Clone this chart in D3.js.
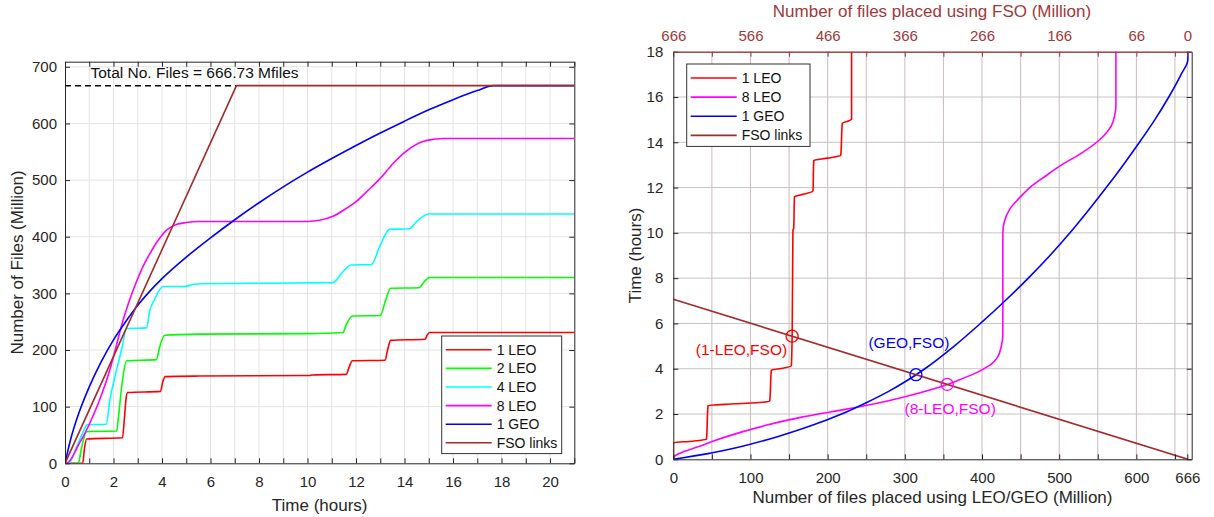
<!DOCTYPE html>
<html><head><meta charset="utf-8">
<script src="https://cdn.jsdelivr.net/npm/d3@7"></script>
<style>body{margin:0;background:#fff} svg{display:block} text{font-family:"Liberation Sans",Arial,Helvetica,sans-serif}</style>
</head><body><svg id="c" width="1214" height="517"></svg>
<script>
// ---------------- DATA ----------------
const TOTAL = 666.73;                 // total number of files (Million)
// [time (hours), cumulative files placed (Million)]
const leo1 = [[0,0],[0.73,0],[0.8,25],[0.89,43],[2.37,45],[2.45,80],[2.52,115],[2.58,125],[3.94,127],[4.02,142],[4.13,153],[5.5,154],[10.1,155],[10.2,156],[11.6,157],[11.7,168],[11.85,181],[13.2,182],[13.3,200],[13.43,217],[14.85,219],[14.93,226],[15.03,231],[21,231]];
const leo2 = [[0,0],[0.55,0],[0.65,20],[0.75,40],[0.89,56],[2.13,57],[2.2,80],[2.35,140],[2.54,181],[3.77,183],[3.9,205],[4.11,226],[5.5,228],[10,229],[11.46,231],[11.6,245],[11.85,260],[13.0,261],[13.2,285],[13.43,309],[14.6,310],[14.8,320],[15.03,328],[21,328]];
const leo4 = [[0,0],[0.14,0],[0.48,29],[0.82,62],[0.9,68],[1.7,69],[1.85,112],[2.06,153],[2.33,200],[2.54,238],[3.36,239],[3.5,270],[3.7,290],[4.05,312],[4.9,312],[5.3,316],[5.6,317],[11.05,319],[11.4,335],[11.8,350],[12.63,351],[13.0,385],[13.38,413],[14.2,414],[14.48,426],[15.0,440],[21,440]];
const leo8 = [[0,0],[0.15,2],[0.34,14],[0.55,32],[0.82,53],[1.2,88],[1.5,120],[1.85,165],[2.1,205],[2.35,246],[2.62,283],[2.95,321],[3.27,352],[3.5,370],[3.75,388],[3.95,400],[4.2,412],[4.5,420],[5.0,425],[5.5,427],[10.0,427],[10.5,429],[11.05,436],[11.6,450],[12.0,462],[12.5,482],[13.0,503],[13.5,528],[14.1,552],[14.76,568],[15.2,572],[15.6,573.5],[21,573.5]];
const geo1 = [[0,0],[0.25,45],[0.5,80],[1,135],[1.5,180],[2,218],[2.5,250],[3,279],[3.5,304],[4,326],[5,364],[6,398],[7,430],[8,460],[9,488],[10,514],[11,538],[12,561],[13,583],[14,604],[15,624],[16,642],[17,658],[17.65,666.73],[21,666.73]];
const fso  = [[0,0],[7.07,666.73],[21,666.73]];

const leftNames  = ["1 LEO","2 LEO","4 LEO","8 LEO","1 GEO","FSO links"];
const rightNames = ["1 LEO","8 LEO","1 GEO","FSO links"];
const crossNames = ["(1-LEO,FSO)","(GEO,FSO)","(8-LEO,FSO)"];

const leftXTicks   = [0,2,4,6,8,10,12,14,16,18,20];
const leftYTicks   = [0,100,200,300,400,500,600,700];
const rightYTicks  = [0,2,4,6,8,10,12,14,16,18];
const rightXLabels = [0,100,200,300,400,500,600,666];
const topLabels    = [666,566,466,366,266,166,66,0];
const totalLabel   = "Total No. Files = 666.73 Mfiles";

// ---------------- STYLE ----------------
const col = {"1 LEO":"#ff0000","2 LEO":"#00ff00","4 LEO":"#00ffff","8 LEO":"#ff00ff","1 GEO":"#0000ff","FSO links":"#a52a2a"};
const dataOf = {"1 LEO":leo1,"2 LEO":leo2,"4 LEO":leo4,"8 LEO":leo8,"1 GEO":geo1,"FSO links":fso};
const FONT = '"Liberation Sans",Arial,Helvetica,sans-serif';
const AX = "#262626", BROWN = "#a0393a";

const svg = d3.select("#c");

function styleAxis(g, color, fs){
  g.attr("font-family", FONT).attr("font-size", fs).attr("color", color);
  g.selectAll(".domain").attr("stroke-width",1);
}

// ================= LEFT PANEL =================
const L = {x0:65, x1:574.3, y0:61.7, y1:463.3};
const xL = d3.scaleLinear([0,21],[L.x0,L.x1]);
const yL = d3.scaleLinear([0,709],[L.y1,L.y0]);
const gL = svg.append("g");
gL.append("rect").attr("x",L.x0).attr("y",L.y0).attr("width",L.x1-L.x0).attr("height",L.y1-L.y0).attr("fill","#fff");
// grid
gL.append("g").selectAll("line").data(d3.range(1,21)).join("line")
  .attr("x1",d=>xL(d)).attr("x2",d=>xL(d)).attr("y1",L.y0).attr("y2",L.y1)
  .attr("stroke","#e3e3e3").attr("stroke-width",1);
gL.append("g").selectAll("line").data(leftYTicks.slice(1)).join("line")
  .attr("y1",d=>yL(d)).attr("y2",d=>yL(d)).attr("x1",L.x0).attr("x2",L.x1)
  .attr("stroke","#e3e3e3").attr("stroke-width",1);

svg.append("clipPath").attr("id","clipL").append("rect")
  .attr("x",L.x0).attr("y",L.y0).attr("width",L.x1-L.x0).attr("height",L.y1-L.y0);

// dashed total line
gL.append("line").attr("x1",xL(0)).attr("x2",xL(fso[1][0])).attr("y1",yL(TOTAL)).attr("y2",yL(TOTAL))
  .attr("stroke","#000").attr("stroke-width",1.5).attr("stroke-dasharray","6,4");

const lineL = d3.line().x(d=>xL(d[0])).y(d=>yL(d[1])).curve(d3.curveMonotoneX);
const linesL = gL.append("g").attr("clip-path","url(#clipL)");
leftNames.forEach(n=>{
  linesL.append("path").attr("d", n==="FSO links" ? d3.line().x(d=>xL(d[0])).y(d=>yL(d[1]))(dataOf[n]) : lineL(dataOf[n]))
    .attr("fill","none").attr("stroke",col[n]).attr("stroke-width",1.6).attr("stroke-linejoin","round");
});

// axes
const axB = gL.append("g").attr("transform",`translate(0,${L.y1})`)
  .call(d3.axisBottom(xL).tickValues(d3.range(0,22)).tickSizeInner(-5).tickSizeOuter(0).tickPadding(13)
    .tickFormat(d=>leftXTicks.includes(d)?d:""));
styleAxis(axB, AX, 15);
const axT = gL.append("g").attr("transform",`translate(0,${L.y0})`)
  .call(d3.axisTop(xL).tickValues(d3.range(0,22)).tickSizeInner(-5).tickSizeOuter(0).tickFormat(""));
styleAxis(axT, AX, 15);
const axLft = gL.append("g").attr("transform",`translate(${L.x0},0)`)
  .call(d3.axisLeft(yL).tickValues(leftYTicks).tickSizeInner(-5).tickSizeOuter(0).tickPadding(8));
styleAxis(axLft, AX, 15);
const axRt = gL.append("g").attr("transform",`translate(${L.x1},0)`)
  .call(d3.axisRight(yL).tickValues(leftYTicks).tickSizeInner(-5).tickSizeOuter(0).tickFormat(""));
styleAxis(axRt, AX, 15);

gL.append("text").attr("x",90.5).attr("y",78).attr("font-size",15.5).attr("fill","#111").text(totalLabel);
gL.append("text").attr("x",(L.x0+L.x1)/2).attr("y",511).attr("text-anchor","middle").attr("font-size",17).attr("fill",AX).text("Time (hours)");
gL.append("text").attr("transform",`translate(23,${(L.y0+L.y1)/2}) rotate(-90)`).attr("text-anchor","middle").attr("font-size",17).attr("fill",AX).text("Number of Files (Million)");

// legend
function legend(g, names, x, y, w, rowH){
  const h = names.length*rowH + 6;
  g.append("rect").attr("x",x).attr("y",y).attr("width",w).attr("height",h).attr("fill","#fff").attr("stroke","#333").attr("stroke-width",1);
  names.forEach((n,i)=>{
    const cy = y + 4 + rowH*(i+0.5) + 0.5;
    g.append("line").attr("x1",x+4).attr("x2",x+50).attr("y1",cy).attr("y2",cy).attr("stroke",col[n]).attr("stroke-width",1.6);
    g.append("text").attr("x",x+55).attr("y",cy).attr("dy","0.35em").attr("font-size",14).attr("fill","#111").text(n);
  });
}
legend(gL, leftNames, 441.7, 336, 120, 18.6);

// ================= RIGHT PANEL =================
const R = {x0:673.3, x1:1191.7, y0:51.7, y1:459.3};
const xR = d3.scaleLinear([0,671.7],[R.x0,R.x1]);
const yR = d3.scaleLinear([0,18],[R.y1,R.y0]);
const gR = svg.append("g");
gR.append("rect").attr("x",R.x0).attr("y",R.y0).attr("width",R.x1-R.x0).attr("height",R.y1-R.y0).attr("fill","#fff");
const gridX = d3.range(50,666,50).concat([666]);
gR.append("g").selectAll("line").data(gridX).join("line")
  .attr("x1",d=>xR(d)).attr("x2",d=>xR(d)).attr("y1",R.y0).attr("y2",R.y1)
  .attr("stroke","#cdb9bc").attr("stroke-width",1);
gR.append("g").selectAll("line").data(rightYTicks.slice(1,-1)).join("line")
  .attr("y1",d=>yR(d)).attr("y2",d=>yR(d)).attr("x1",R.x0).attr("x2",R.x1)
  .attr("stroke","#c4c4c4").attr("stroke-width",1);

svg.append("clipPath").attr("id","clipR").append("rect")
  .attr("x",R.x0).attr("y",R.y0).attr("width",R.x1-R.x0).attr("height",R.y1-R.y0);

const linesR = gR.append("g").attr("clip-path","url(#clipR)");
const lineR = d3.line().x(d=>xR(d[1])).y(d=>yR(d[0])).curve(d3.curveMonotoneY);
// FSO: files still left for FSO → placed-by-LEO/GEO axis
const fsoR = fso.slice(0,2).map(d=>[d[0], TOTAL-d[1]]);
rightNames.forEach(n=>{
  const p = n==="FSO links" ? d3.line().x(d=>xR(d[1])).y(d=>yR(d[0]))(fsoR) : lineR(dataOf[n]);
  linesR.append("path").attr("d",p).attr("fill","none").attr("stroke",col[n]).attr("stroke-width",1.6).attr("stroke-linejoin","round");
});

// crossing points with FSO line
const Tf = fso[1][0];
function fsoTime(f){ return Tf*(1 - f/TOTAL); }
function crossing(data){
  for(let i=1;i<data.length;i++){
    const a=data[i-1], b=data[i];
    const ga=a[0]-fsoTime(a[1]), gb=b[0]-fsoTime(b[1]);
    if(ga<=0 && gb>0){ const s=ga/(ga-gb); return [a[0]+s*(b[0]-a[0]), a[1]+s*(b[1]-a[1])]; }
  }
  return null;
}
const crossSeries = ["1 LEO","1 GEO","8 LEO"];
const labelOff = {"1 LEO":[-5,13,"end"],"1 GEO":[-7,-32,"middle"],"8 LEO":[3,24,"middle"]};
crossSeries.forEach((n,i)=>{
  const c = crossing(dataOf[n]);
  const cx = xR(c[1]), cy = yR(c[0]);
  gR.append("circle").attr("cx",cx).attr("cy",cy).attr("r",6).attr("fill","none").attr("stroke",col[n]).attr("stroke-width",1.3);
  const o = labelOff[n];
  gR.append("text").attr("x",cx+o[0]).attr("y",cy+o[1]).attr("dy","0.35em").attr("text-anchor",o[2])
    .attr("font-size",15.5).attr("fill",col[n]).text(crossNames[i]);
});

// axes
const rB = gR.append("g").attr("transform",`translate(0,${R.y1})`)
  .call(d3.axisBottom(xR).tickValues(gridX.concat([0])).tickSizeInner(-5).tickSizeOuter(0).tickPadding(13)
    .tickFormat(d=>rightXLabels.includes(d)?d:""));
styleAxis(rB, AX, 15);
const topPos = topLabels.map(v=>666-v);
const rT = gR.append("g").attr("transform",`translate(0,${R.y0})`)
  .call(d3.axisTop(xR).tickValues(gridX.concat([0])).tickSizeInner(-5).tickSizeOuter(0).tickPadding(11)
    .tickFormat(d=>{const k=topPos.indexOf(d); return k>=0?topLabels[k]:"";}));
styleAxis(rT, BROWN, 15);
const rL = gR.append("g").attr("transform",`translate(${R.x0},0)`)
  .call(d3.axisLeft(yR).tickValues(rightYTicks).tickSizeInner(-5).tickSizeOuter(0).tickPadding(10));
styleAxis(rL, AX, 15);
const rRt = gR.append("g").attr("transform",`translate(${R.x1},0)`)
  .call(d3.axisRight(yR).tickValues(rightYTicks).tickSizeInner(-5).tickSizeOuter(0).tickFormat(""));
styleAxis(rRt, AX, 15);
// redraw top domain on top in brown
gR.append("line").attr("x1",R.x0).attr("x2",R.x1).attr("y1",R.y0+0.5).attr("y2",R.y0+0.5).attr("stroke",BROWN).attr("stroke-width",1);

gR.append("text").attr("x",(R.x0+R.x1)/2).attr("y",503).attr("text-anchor","middle").attr("font-size",17).attr("fill",AX).text("Number of files placed using LEO/GEO (Million)");
gR.append("text").attr("x",932).attr("y",17).attr("text-anchor","middle").attr("font-size",17).attr("fill",BROWN).text("Number of files placed using FSO (Million)");
gR.append("text").attr("transform",`translate(641,${(R.y0+R.y1)/2}) rotate(-90)`).attr("text-anchor","middle").attr("font-size",17).attr("fill",AX).text("Time (hours)");

legend(gR, rightNames, 686.7, 64, 123.3, 19.1);
</script></body></html>
